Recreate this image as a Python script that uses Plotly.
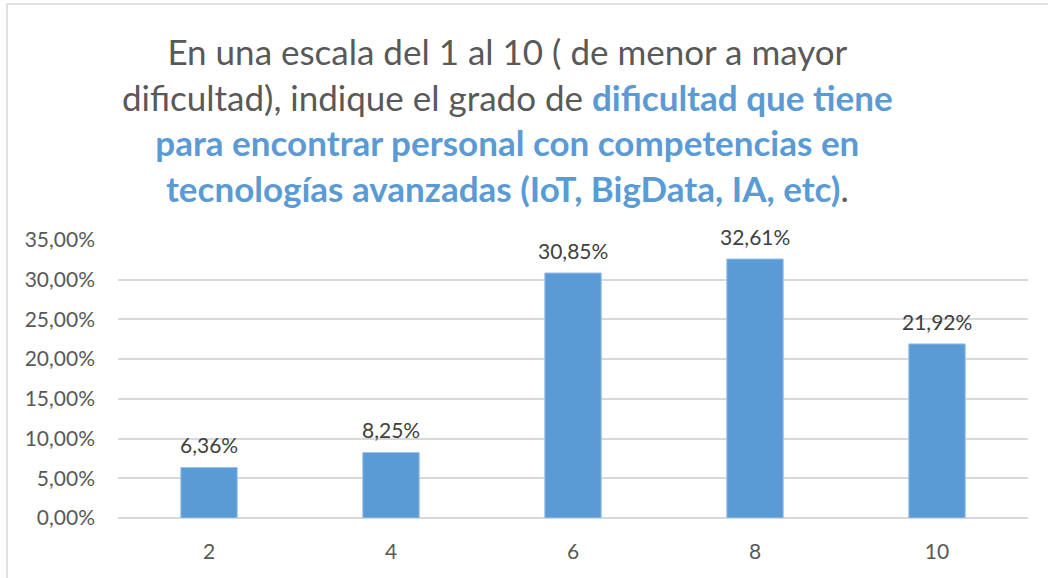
import plotly.graph_objects as go

categories = ["2", "4", "6", "8", "10"]
values = [0.0636, 0.0825, 0.3085, 0.3261, 0.2192]

FONT = "Lato"
GRAY = "#595959"
BLUE = "#5B9BD5"

title_html = (
    f"<span style='color:{GRAY}'>En una escala del 1 al 10 ( de menor a mayor</span><br>"
    f"<span style='color:{GRAY}'>dificultad), indique el grado de </span>"
    f"<b style='color:{BLUE}'>dificultad que tiene</b><br>"
    f"<b style='color:{BLUE}'>para encontrar personal con competencias en</b><br>"
    f"<b style='color:{BLUE}'>tecnologías avanzadas (IoT, BigData, IA, etc)</b>"
    f"<span style='color:{GRAY}'>.</span>"
)

# plot area in pixels
PL, PR, PT, PB = 118, 1028, 240, 518
PW, PH = PR - PL, PB - PT

fig = go.Figure(
    go.Bar(
        x=categories,
        y=values,
        marker=dict(color=BLUE, line=dict(color="#9DC3E6", width=1)),
        hoverinfo="skip",
    )
)

label_annotations = [
    dict(
        x=i, y=v, xref="x", yref="y",
        text=f"{v * 100:.2f}%".replace(".", ","),
        showarrow=False, yanchor="bottom", yshift=8,
        font=dict(family=FONT, size=21, color="#404040"),
    )
    for i, v in enumerate(values)
]

fig.update_layout(
    width=1048,
    height=578,
    margin=dict(l=PL, r=1048 - PR, t=PT, b=578 - PB),
    paper_bgcolor="white",
    plot_bgcolor="white",
    separators=",.",
    bargap=0.69,
    showlegend=False,
    font=dict(family=FONT, color=GRAY),
    annotations=[
        dict(
            text=title_html,
            xref="paper", yref="paper",
            x=(507 - PL) / PW, y=(PB - 28) / PH,
            xanchor="center", yanchor="top",
            showarrow=False,
            align="center",
            font=dict(family=FONT, size=35, color=GRAY),
        )
    ] + label_annotations,
    shapes=[
        dict(
            type="rect", xref="paper", yref="paper",
            x0=(7 - PL) / PW, x1=(1060 - PL) / PW,
            y0=(PB - 590) / PH, y1=(PB - 4) / PH,
            line=dict(color="#D9D9D9", width=1.5),
            fillcolor="rgba(0,0,0,0)",
            layer="below",
        )
    ],
)

fig.update_xaxes(
    type="category",
    range=[-0.5, len(categories) - 0.5],
    showgrid=False,
    showline=False,
    ticks="",
    tickfont=dict(family=FONT, size=21, color=GRAY),
    ticklabelstandoff=19,
)
fig.update_yaxes(
    range=[0, 0.35],
    dtick=0.05,
    tickformat=".2%",
    showgrid=True,
    gridcolor="#D9D9D9",
    gridwidth=1.5,
    zeroline=True,
    zerolinecolor="#D9D9D9",
    zerolinewidth=1.5,
    showline=False,
    ticks="",
    tickfont=dict(family=FONT, size=21, color=GRAY),
    ticklabelstandoff=22,
)

fig.write_html(
    "out.html",
    config={"displayModeBar": False},
    post_script="document.body.style.margin='0px';",
)
